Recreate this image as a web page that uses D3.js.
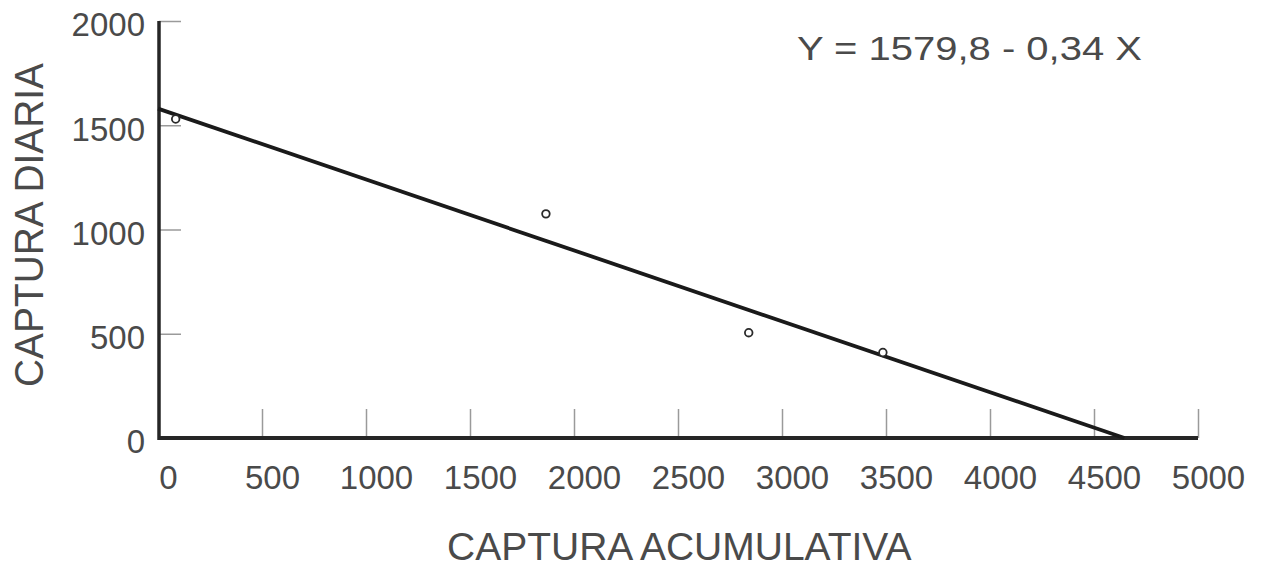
<!DOCTYPE html>
<html>
<head>
<meta charset="utf-8">
<script src="https://cdn.jsdelivr.net/npm/d3@7"></script>
<style>
  html, body { margin: 0; padding: 0; background: #fff; }
  svg { display: block; }
  text { font-family: "Liberation Sans", Arial, sans-serif; fill: #4a4a4a; }
</style>
</head>
<body>
<svg id="chart" width="1262" height="569"></svg>
<script>
// Observed catch data (cumulative catch vs daily catch)
const capturaAcumulativa = [85, 1865, 2840, 3485];
const capturaDiaria = [1530, 1075, 505, 410];

// Fitted regression: Y = a + b X
const intercept = 1579.8;
const slope = -0.34;
const equationLabel = "Y = 1579,8 - 0,34 X";

const xTicks = [0, 500, 1000, 1500, 2000, 2500, 3000, 3500, 4000, 4500, 5000];
const yTicks = [0, 500, 1000, 1500, 2000];

const xTitle = "CAPTURA ACUMULATIVA";
const yTitle = "CAPTURA DIARIA";

const svg = d3.select("#chart");

const x = d3.scaleLinear().domain([0, 5000]).range([158, 1198]);
const y = d3.scaleLinear().domain([0, 2000]).range([438, 21]);

// X axis: ticks point up into the plot
const gx = svg.append("g")
  .attr("transform", `translate(0,${y(0)})`)
  .call(d3.axisBottom(x).tickValues(xTicks).tickSize(-29).tickPadding(28).tickFormat(d3.format("d")));
gx.select(".domain").remove();
gx.selectAll(".tick line").attr("stroke", "#9a9a9a").attr("stroke-width", 1.5)
  .filter(d => d === 0).remove();
gx.selectAll(".tick text").attr("font-size", 33).attr("fill", "#4a4a4a")
  .attr("font-family", "Liberation Sans, Arial, sans-serif").attr("dx", 10);

// Y axis: ticks point right into the plot
const gy = svg.append("g")
  .attr("transform", `translate(${x(0) + 1},0)`)
  .call(d3.axisLeft(y).tickValues(yTicks).tickSize(-22).tickPadding(14).tickFormat(d3.format("d")));
gy.select(".domain").remove();
gy.selectAll(".tick line").attr("stroke", "#9a9a9a").attr("stroke-width", 1.5)
  .filter(d => d === 0).remove();
gy.selectAll(".tick text").attr("font-size", 33).attr("fill", "#4a4a4a")
  .attr("font-family", "Liberation Sans, Arial, sans-serif").attr("dy", "0.45em");

// Axis lines
svg.append("line")
  .attr("x1", x(0) + 1).attr("x2", x(0) + 1)
  .attr("y1", y(2000)).attr("y2", y(0) + 2)
  .attr("stroke", "#262626").attr("stroke-width", 3.5);
svg.append("line")
  .attr("x1", x(0)).attr("x2", x(5000))
  .attr("y1", y(0)).attr("y2", y(0))
  .attr("stroke", "#262626").attr("stroke-width", 4);

// Regression line from x = 0 to its x-intercept
const xEnd = -intercept / slope;
svg.append("line")
  .attr("x1", x(0)).attr("y1", y(intercept))
  .attr("x2", x(xEnd)).attr("y2", y(intercept + slope * xEnd))
  .attr("stroke", "#1a1a1a").attr("stroke-width", 3.8);

// Observed points
svg.append("g").selectAll("circle")
  .data(capturaAcumulativa.map((v, i) => [v, capturaDiaria[i]]))
  .join("circle")
  .attr("cx", d => x(d[0]))
  .attr("cy", d => y(d[1]))
  .attr("r", 3.8)
  .attr("fill", "#fff")
  .attr("stroke", "#2a2a2a")
  .attr("stroke-width", 1.8);

// Equation
svg.append("text")
  .attr("x", 797).attr("y", 60)
  .attr("font-size", 34)
  .attr("textLength", 345)
  .attr("lengthAdjust", "spacingAndGlyphs")
  .text(equationLabel);

// Axis titles
svg.append("text")
  .attr("x", 447).attr("y", 560)
  .attr("font-size", 39)
  .text(xTitle);

svg.append("text")
  .attr("transform", "translate(43,387) rotate(-90)")
  .attr("font-size", 41)
  .attr("textLength", 324)
  .attr("lengthAdjust", "spacingAndGlyphs")
  .text(yTitle);
</script>
</body>
</html>
